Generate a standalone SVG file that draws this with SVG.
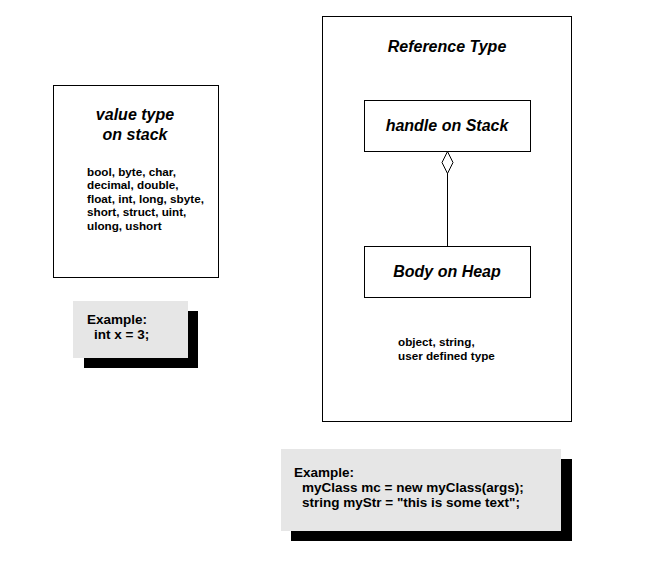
<svg xmlns="http://www.w3.org/2000/svg" width="672" height="575" viewBox="0 0 672 575">
<style>
.box{fill:#fff;stroke:#000;stroke-width:1}
.note{fill:#e6e6e6}
.shadow{fill:#000}
.t{font-family:"Liberation Sans",Arial,sans-serif;font-weight:bold;fill:#000}
.ti{font-family:"Liberation Sans",Arial,sans-serif;font-weight:bold;font-style:italic;fill:#000;font-size:16px;text-anchor:middle}
.s{font-size:11.7px}
.m{font-size:13.5px}
</style>
<rect width="672" height="575" fill="#fff"/>
<g id="valueType">
<rect class="box" x="53.5" y="85.5" width="165" height="192"/>
<text class="ti" x="135" y="120">value type</text>
<text class="ti" x="135" y="140">on stack</text>
<text class="t s" x="87" y="176">bool, byte, char,</text>
<text class="t s" x="87" y="189">decimal, double,</text>
<text class="t s" x="87" y="203">float, int, long, sbyte,</text>
<text class="t s" x="87" y="216">short, struct, uint,</text>
<text class="t s" x="87" y="230">ulong, ushort</text>
</g>
<g id="example1">
<rect class="shadow" x="84" y="311" width="114" height="57"/>
<rect class="note" x="73" y="301" width="115" height="57"/>
<text class="t m" x="87" y="324">Example:</text>
<text class="t m" x="94" y="339">int x = 3;</text>
</g>
<g id="referenceType">
<rect class="box" x="322.5" y="16.5" width="249" height="405"/>
<text class="ti" x="447" y="52">Reference Type</text>
<text class="t s" x="398" y="346">object, string,</text>
<text class="t s" x="398" y="360">user defined type</text>
</g>
<g id="handle">
<rect class="box" x="364.5" y="100.5" width="166" height="51"/>
<text class="ti" x="447" y="131">handle on Stack</text>
</g>
<g id="body">
<rect class="box" x="364.5" y="246.5" width="166" height="51"/>
<text class="ti" x="447" y="277">Body on Heap</text>
</g>
<g id="connectors">
<path d="M447.5 173 L447.5 246.5" stroke="#000" stroke-width="1" fill="none"/>
<path d="M447.5 151.5 L453 162.5 L447.5 173.5 L442 162.5 Z" stroke="#000" stroke-width="1" fill="#fff"/>
</g>
<g id="example2">
<rect class="shadow" x="291" y="459" width="281" height="82"/>
<rect class="note" x="281" y="449" width="280" height="82"/>
<text class="t m" x="294" y="477">Example:</text>
<text class="t m" x="302" y="492">myClass mc = new myClass(args);</text>
<text class="t m" x="302" y="507">string myStr = "this is some text";</text>
</g>
</svg>
